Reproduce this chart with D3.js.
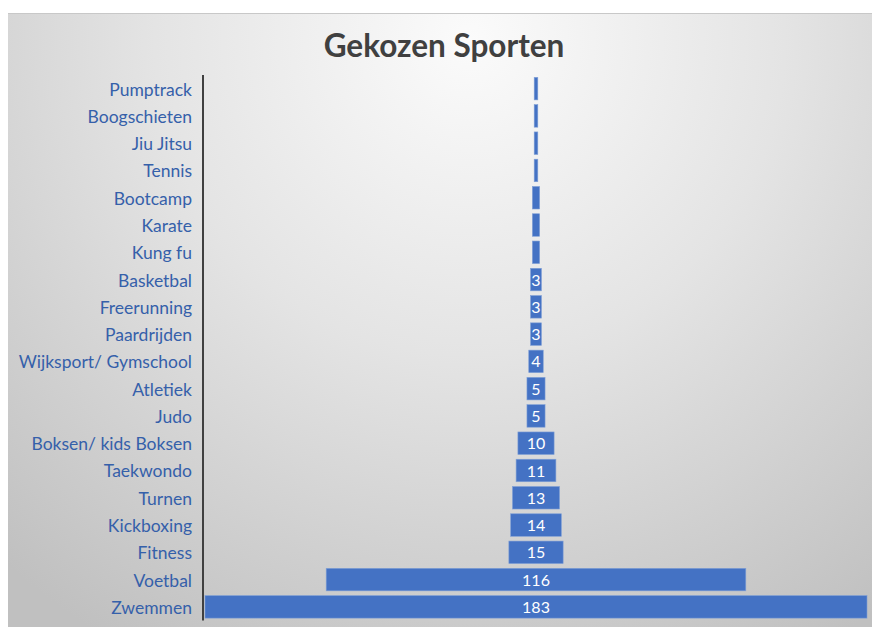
<!DOCTYPE html>
<html>
<head>
<meta charset="utf-8">
<script src="https://cdn.jsdelivr.net/npm/d3@7"></script>
<style>
    html, body { margin: 0; padding: 0; background: #ffffff; }
    svg { display: block; }
</style>
</head>
<body>
<svg id="chart" width="872" height="627"></svg>
<script>
(function (d3) {
    'use strict';

    // categories top to bottom, with the number of children per sport
    var categories = [
        'Pumptrack', 'Boogschieten', 'Jiu Jitsu', 'Tennis', 'Bootcamp', 'Karate',
        'Kung fu', 'Basketbal', 'Freerunning', 'Paardrijden', 'Wijksport/ Gymschool',
        'Atletiek', 'Judo', 'Boksen/ kids Boksen', 'Taekwondo', 'Turnen',
        'Kickboxing', 'Fitness', 'Voetbal', 'Zwemmen'
    ];
    var values = [1, 1, 1, 1, 2, 2, 2, 3, 3, 3, 4, 5, 5, 10, 11, 13, 14, 15, 116, 183];

    var TITLE       = 'Gekozen Sporten',
        WIDTH       = 872,
        HEIGHT      = 627,
        AREA_LEFT   = 8,
        AREA_TOP    = 13,
        AXIS_X      = 203,
        BAR_COLOR   = '#4472c4',
        LABEL_COLOR = '#3560aa',
        FONT        = 'Lato, Carlito, "Open Sans", sans-serif';

    var rows = categories.map(function (c, i) {
        return { name: c, value: values[i] };
    });
    var maxValue = d3.max(values);

    var svg = d3.select('#chart');

    // background: radial grey gradient like the office chart style
    var defs = svg.append('defs');
    var grad = defs.append('radialGradient')
        .attr('id', 'bg')
        .attr('gradientUnits', 'userSpaceOnUse')
        .attr('cx', 470).attr('cy', 40).attr('r', 700);
    grad.append('stop').attr('offset', '0%').attr('stop-color', '#fbfbfb');
    grad.append('stop').attr('offset', '45%').attr('stop-color', '#e4e4e4');
    grad.append('stop').attr('offset', '100%').attr('stop-color', '#c0c0c0');

    svg.append('rect')
        .attr('x', AREA_LEFT)
        .attr('y', AREA_TOP)
        .attr('width', WIDTH - AREA_LEFT)
        .attr('height', HEIGHT - AREA_TOP)
        .attr('fill', 'url(#bg)');
    svg.append('line')
        .attr('x1', AREA_LEFT).attr('x2', WIDTH)
        .attr('y1', AREA_TOP + 0.5).attr('y2', AREA_TOP + 0.5)
        .attr('stroke', '#c8c8c8')
        .attr('stroke-width', 1);

    // scales: bars are centred, funnel style
    var y = d3.scaleBand()
        .domain(categories)
        .range([75, 620.5])
        .paddingInner(0.175)
        .paddingOuter(0.0875);

    var x = d3.scaleLinear()
        .domain([-maxValue / 2, maxValue / 2])
        .range([205, 867]);

    svg.append('text')
        .text(TITLE)
        .attr('x', 444)
        .attr('y', 57)
        .attr('text-anchor', 'middle')
        .attr('fill', '#404040')
        .attr('style', 'font-family: ' + FONT + '; font-weight: bold; font-size: 31.5px;');

    var bars = svg.append('g');
    bars.selectAll('rect')
        .data(rows)
        .enter()
        .append('rect')
        .attr('x', function (d) { return x(-d.value / 2); })
        .attr('y', function (d) { return y(d.name); })
        .attr('width', function (d) { return x(d.value / 2) - x(-d.value / 2); })
        .attr('height', y.bandwidth())
        .attr('fill', BAR_COLOR)
        .attr('stroke', '#7f9fd6')
        .attr('stroke-width', 0.6);

    // value labels, only where the bar has room for them
    bars.selectAll('text')
        .data(rows.filter(function (d) { return d.value >= 3; }))
        .enter()
        .append('text')
        .text(function (d) { return d.value; })
        .attr('x', x(0))
        .attr('y', function (d) { return y(d.name) + y.bandwidth() / 2; })
        .attr('dy', '0.38em')
        .attr('text-anchor', 'middle')
        .attr('fill', '#ffffff')
        .attr('style', 'font-family: ' + FONT + '; font-size: 16px;');

    // category axis on the left
    var axis = svg.append('g')
        .attr('transform', 'translate(' + AXIS_X + ',0)')
        .call(d3.axisLeft(y).tickSize(0).tickPadding(11));
    axis.select('.domain')
        .attr('stroke', '#404040')
        .attr('stroke-width', 2)
        .attr('d', 'M0,' + y.range()[0] + 'V' + y.range()[1]);
    axis.selectAll('text')
        .attr('dy', '0.4em')
        .attr('fill', LABEL_COLOR)
        .attr('style', 'font-family: ' + FONT + '; font-size: 17.5px;');

})(d3);
</script>
</body>
</html>
